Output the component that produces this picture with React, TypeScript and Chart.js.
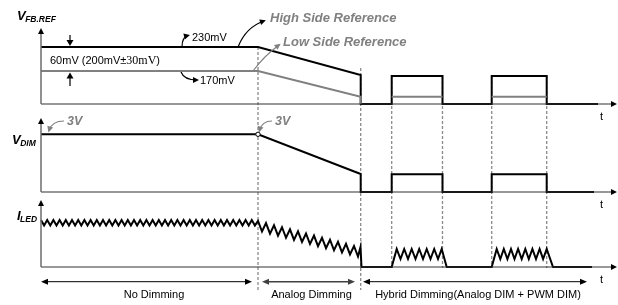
import React, { useEffect, useRef } from 'react';
import { Chart, registerables } from 'chart.js';

Chart.register(...registerables);

// ---------- Data (diagram units: x = time, y = level, downward) ----------
// V_FB.REF high-side reference (black)
const FB_HIGH_X = [41, 258, 360.7, 360.7, 391.7, 391.7, 442.5, 442.5, 491.7, 491.7, 546.7, 546.7, 598];
const FB_HIGH_Y = [47, 47, 75, 104, 104, 76, 76, 104, 104, 76, 76, 104, 104];
// V_FB.REF low-side reference (gray), null = gap
const FB_LOW_X = [41, 258, 360.7, 360.7, 375, 391.7, 442.5, 467, 491.7, 546.7];
const FB_LOW_Y = [71, 71, 96.7, 104, null, 96.7, 96.7, null, 96.7, 96.7];
// V_DIM
const DIM_X = [41, 258, 360.7, 360.7, 391.7, 391.7, 442.5, 442.5, 491.7, 491.7, 546.7, 546.7, 594];
const DIM_Y = [134.3, 134.3, 174, 192, 192, 174.3, 174.3, 192, 192, 174.3, 174.3, 192, 192];
// I_LED ripple waveform
const LED_X = [
  41.0, 44.1, 47.2, 50.3, 53.4, 56.5, 59.6, 62.7, 65.8, 68.9, 72.0, 75.1, 78.2, 81.3, 84.4, 87.5, 90.6, 93.7,
  96.8, 99.9, 103.0, 106.1, 109.2, 112.3, 115.4, 118.5, 121.6, 124.7, 127.8, 130.9, 134.0, 137.1, 140.2, 143.3,
  146.4, 149.5, 152.6, 155.7, 158.8, 161.9, 165.0, 168.1, 171.2, 174.3, 177.4, 180.5, 183.6, 186.7, 189.8, 192.9,
  196.0, 199.1, 202.2, 205.3, 208.4, 211.5, 214.6, 217.7, 220.8, 223.9, 227.0, 230.1, 233.2, 236.3, 239.4, 242.5,
  245.6, 248.7, 251.8, 254.9,
  258, 262, 266, 270, 274, 278, 282, 286, 290, 294, 298, 302, 306, 310, 314, 318, 322, 326, 330, 334, 338, 342,
  346, 350, 354, 358, 360.5, 361.5,
  391.7, 396.7, 400.5, 404.2, 408, 411.7, 415.5, 419.2, 423, 426.7, 430.5, 434.2, 438, 441.7, 446.7,
  491.7, 496.7, 500.3, 503.8, 507.4, 511, 514.5, 518.1, 521.7, 525.3, 528.8, 532.4, 536, 539.6, 543.1, 546.7, 553,
  592,
];
const LED_Y = [
  220, 225.5, 220, 225.5, 220, 225.5, 220, 225.5, 220, 225.5, 220, 225.5, 220, 225.5, 220, 225.5, 220, 225.5,
  220, 225.5, 220, 225.5, 220, 225.5, 220, 225.5, 220, 225.5, 220, 225.5, 220, 225.5, 220, 225.5,
  220, 225.5, 220, 225.5, 220, 225.5, 220, 225.5, 220, 225.5, 220, 225.5, 220, 225.5, 220, 225.5,
  220, 225.5, 220, 225.5, 220, 225.5, 220, 225.5, 220, 225.5, 220, 225.5, 220, 225.5, 220, 225.5,
  220, 225.5, 220, 225.5,
  221, 231.5, 223.1, 233.6, 225.2, 235.7, 227.2, 237.8, 229.3, 239.9, 231.4, 241.9, 233.5, 244.0, 235.6, 246.1,
  237.7, 248.2, 239.7, 250.3, 241.8, 252.4, 243.9, 254.4, 246.0, 256.5, 247.0, 267,
  267, 249, 259, 249, 259, 249, 259, 249, 259, 249, 259, 249, 259, 249, 267,
  267, 249, 259, 249, 259, 249, 259, 249, 259, 249, 259, 249, 259, 249, 259, 249, 267,
  267,
];
// Phase boundaries (dashed markers) and their vertical extents
const MARK_X = [258, 360.7, 391.7, 442.5, 491.7, 546.7];
const MARK_TOP = [47, 68, 76, 76, 76, 76];
const MARK_BOTTOM = [290, 290, 268, 268, 268, 268];
// Panel axes
const AXIS_TIP = [28, 118, 200];
const AXIS_BASE = [104, 192, 267];
const AXIS_X0 = 41;
const AXIS_X1 = 617;
// Phase spans (bottom)
const PHASE_LABELS = ['No Dimming', 'Analog Dimming', 'Hybrid Dimming(Analog DIM + PWM DIM)'];
const PHASE_FROM = [41, 262, 363];
const PHASE_TO = [252, 355, 587];

const pts = (xs: number[], ys: (number | null)[]) => xs.map((x, i) => ({ x, y: ys[i] }));

const SANS = '"Liberation Sans", Arial, sans-serif';
const GRAY = '#808080';

function head(ctx: CanvasRenderingContext2D, x: number, y: number, ang: number, len: number, hw: number, color: string) {
  ctx.save();
  ctx.translate(x, y);
  ctx.rotate(ang);
  ctx.beginPath();
  ctx.moveTo(0, 0);
  ctx.lineTo(-len, -hw);
  ctx.lineTo(-len, hw);
  ctx.closePath();
  ctx.fillStyle = color;
  ctx.fill();
  ctx.restore();
}

const diagramPlugin = {
  id: 'diagram',
  afterDatasetsDraw(chart: any) {
    const ctx: CanvasRenderingContext2D = chart.ctx;
    const px = (v: number) => chart.scales.x.getPixelForValue(v);
    const py = (v: number) => chart.scales.y.getPixelForValue(v);
    ctx.save();

    // axis arrowheads
    AXIS_TIP.forEach((t) => head(ctx, px(AXIS_X0), py(t), -Math.PI / 2, 6, 3, '#000'));
    AXIS_BASE.forEach((b) => head(ctx, px(AXIS_X1), py(b), 0, 6, 3, '#000'));

    // phase double arrows + labels
    PHASE_LABELS.forEach((lab, i) => {
      const y = py(281.7);
      const col = i === 1 ? '#404040' : '#000';
      ctx.strokeStyle = col;
      ctx.lineWidth = i === 1 ? 1.5 : 1;
      ctx.beginPath();
      ctx.moveTo(px(PHASE_FROM[i]) + 4, y);
      ctx.lineTo(px(PHASE_TO[i]) - 4, y);
      ctx.stroke();
      head(ctx, px(PHASE_FROM[i]), y, Math.PI, 7, 3, col);
      head(ctx, px(PHASE_TO[i]), y, 0, 7, 3, col);
      ctx.fillStyle = '#000';
      ctx.font = `11px ${SANS}`;
      ctx.textAlign = 'center';
      ctx.textBaseline = 'middle';
      const cx = i === 0 ? 154 : i === 1 ? 311.5 : 478;
      ctx.fillText(lab, px(cx), py(294.5));
    });

    // axis labels with subscripts
    const sub = (main: string, s: string, x: number, y: number) => {
      ctx.fillStyle = '#000';
      ctx.textAlign = 'left';
      ctx.textBaseline = 'alphabetic';
      ctx.font = `italic bold 13px ${SANS}`;
      ctx.fillText(main, px(x), py(y));
      const w = ctx.measureText(main).width;
      ctx.font = `italic bold 8.5px ${SANS}`;
      ctx.fillText(s, px(x) + w - 0.5, py(y) + 2.5);
    };
    sub('V', 'FB.REF', 17, 19.5);
    sub('V', 'DIM', 12, 143.5);
    sub('I', 'LED', 17, 219.5);

    // "t" labels
    ctx.font = `11px ${SANS}`;
    ctx.textAlign = 'left';
    ctx.textBaseline = 'middle';
    [117, 205, 280].forEach((y) => ctx.fillText('t', px(600), py(y)));

    // value labels
    ctx.fillText('230mV', px(192), py(37.5));
    ctx.fillText('170mV', px(200), py(81));
    ctx.font = `11px ${SANS}`;
    const s1 = '60mV (200mV±';
    ctx.fillText(s1, px(50), py(61));
    let w = ctx.measureText(s1).width;
    ctx.font = `12px "Liberation Serif", serif`;
    ctx.fillText('30mV', px(50) + w, py(61));
    w += ctx.measureText('30mV').width;
    ctx.font = `11px ${SANS}`;
    ctx.fillText(')', px(50) + w, py(61));

    // gray italic labels
    ctx.fillStyle = GRAY;
    ctx.font = `italic bold 13px ${SANS}`;
    ctx.fillText('High Side Reference', px(270), py(18));
    ctx.fillText('Low Side Reference', px(283), py(42));
    ctx.font = `italic bold 12.5px ${SANS}`;
    ctx.fillText('3V', px(67), py(122));
    ctx.fillText('3V', px(275), py(122));

    // curved callout arrows
    const curve = (x0: number, y0: number, cx: number, cy: number, x1: number, y1: number, col: string, lw: number) => {
      ctx.strokeStyle = col;
      ctx.lineWidth = lw;
      ctx.beginPath();
      ctx.moveTo(px(x0), py(y0));
      ctx.quadraticCurveTo(px(cx), py(cy), px(x1), py(y1));
      ctx.stroke();
      const ang = Math.atan2(py(y1) - py(cy), px(x1) - px(cx));
      head(ctx, px(x1) + Math.cos(ang) * 2, py(y1) + Math.sin(ang) * 2, ang, 6, 3, col);
    };
    curve(182, 47, 182, 37, 188, 35.5, '#000', 1.2);
    curve(181, 72, 184, 80, 197, 80, '#000', 1.2);
    curve(238, 47, 246, 27, 264, 21, '#000', 1.2);
    curve(253, 71, 264, 56, 279, 45, GRAY, 1.2);
    curve(64, 121, 52, 121, 49, 130.5, GRAY, 1.2);
    curve(272, 121, 262, 121, 259.5, 130.5, GRAY, 1.2);

    // 60mV measurement arrows
    ctx.strokeStyle = '#000';
    ctx.lineWidth = 1.2;
    ctx.beginPath();
    ctx.moveTo(px(70), py(35));
    ctx.lineTo(px(70), py(42));
    ctx.moveTo(px(70), py(77));
    ctx.lineTo(px(70), py(86));
    ctx.stroke();
    head(ctx, px(70), py(46), Math.PI / 2, 6, 3.5, '#000');
    head(ctx, px(70), py(72.5), -Math.PI / 2, 6, 3.5, '#000');

    // open circle at analog-dimming start on V_DIM
    ctx.beginPath();
    ctx.arc(px(258), py(134.3), 2.2, 0, Math.PI * 2);
    ctx.fillStyle = '#fff';
    ctx.fill();
    ctx.strokeStyle = '#000';
    ctx.lineWidth = 1;
    ctx.stroke();

    ctx.restore();
  },
};

export default function App() {
  const ref = useRef<HTMLCanvasElement>(null);
  useEffect(() => {
    if (!ref.current) return;
    const line = (data: any[], color: string, width: number, extra: any = {}) => ({
      data,
      borderColor: color,
      borderWidth: width,
      pointRadius: 0,
      showLine: true,
      fill: false,
      tension: 0,
      spanGaps: false,
      ...extra,
    });
    const datasets: any[] = [];
    // axes
    AXIS_TIP.forEach((t, i) => {
      datasets.push(line([{ x: AXIS_X0, y: t + 4 }, { x: AXIS_X0, y: AXIS_BASE[i] }], '#6e6e6e', 1.5));
      datasets.push(line([{ x: AXIS_X0, y: AXIS_BASE[i] }, { x: AXIS_X1 - 4, y: AXIS_BASE[i] }], '#333', 1.2));
    });
    datasets.push(line(pts(FB_LOW_X, FB_LOW_Y), GRAY, 2));
    datasets.push(line(pts(FB_HIGH_X, FB_HIGH_Y), '#000', 2));
    datasets.push(line(pts(DIM_X, DIM_Y), '#000', 2));
    datasets.push(line(pts(LED_X, LED_Y), '#000', 2, { borderJoinStyle: 'miter' }));
    // dashed phase markers
    MARK_X.forEach((x, i) => {
      datasets.push(line([{ x, y: MARK_TOP[i] }, { x, y: MARK_BOTTOM[i] }], '#8a8a8a', 1.3, { borderDash: [3, 2] }));
    });

    const chart = new Chart(ref.current, {
      type: 'scatter',
      data: { datasets },
      options: {
        animation: false,
        responsive: false,
        events: [],
        layout: { padding: 0 },
        plugins: { legend: { display: false }, tooltip: { enabled: false }, title: { display: false } },
        scales: {
          x: { type: 'linear', min: 0, max: 618, display: false },
          y: { type: 'linear', min: 0, max: 305, reverse: true, display: false },
        },
      },
      plugins: [diagramPlugin],
    });
    return () => chart.destroy();
  }, []);
  return (
    <div style={{ position: 'fixed', left: 0, top: 0, width: 618, height: 305, background: '#fff' }}>
      <canvas ref={ref} width={618} height={305} />
    </div>
  );
}
